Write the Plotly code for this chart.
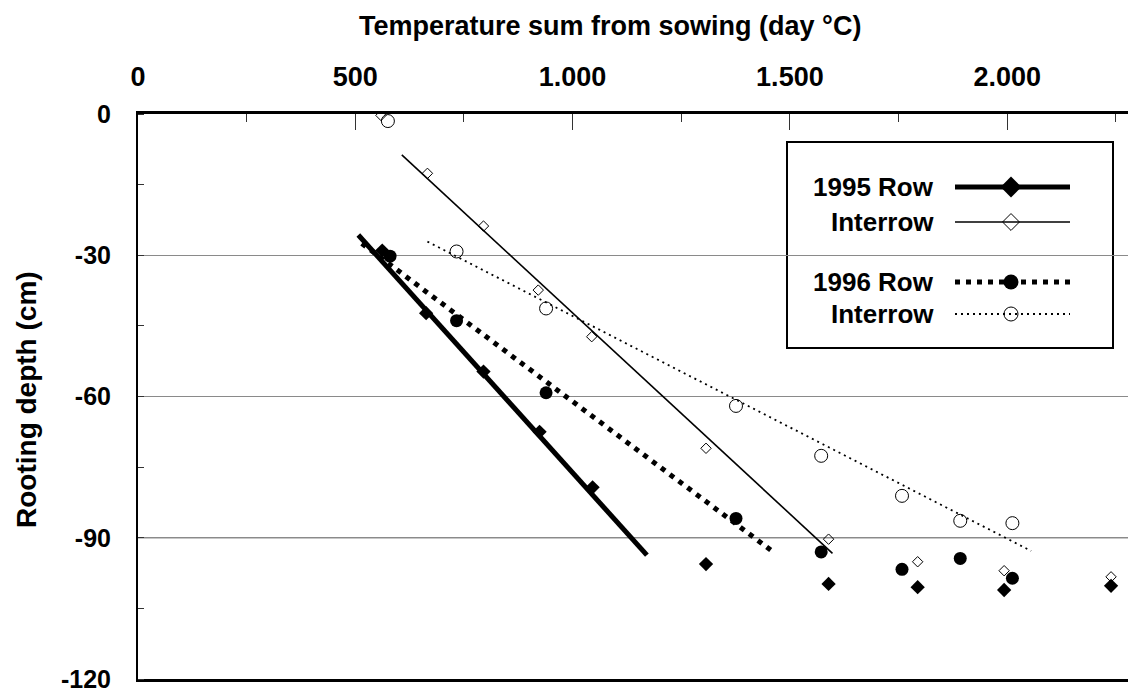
import plotly.graph_objects as go

# ---------------- data ----------------
# 1995 Row (filled diamonds)
row95_x = [562, 663, 795, 924, 1046, 1307, 1589, 1794, 1993, 2239]
row95_y = [-29.0, -42.3, -54.7, -67.5, -79.3, -95.6, -99.8, -100.5, -101.1, -100.2]
# 1995 Interrow (open diamonds)
int95_x = [559, 666, 795, 921, 1044, 1307, 1589, 1794, 1993, 2239]
int95_y = [-0.3, -12.6, -23.8, -37.4, -47.3, -71.0, -90.3, -95.1, -97.0, -98.3]
# 1996 Row (filled circles)
row96_x = [580, 733, 939, 1376, 1572, 1758, 1892, 2012]
row96_y = [-30.2, -43.9, -59.2, -85.9, -93.0, -96.7, -94.4, -98.6]
# 1996 Interrow (open circles)
int96_x = [575, 733, 939, 1376, 1572, 1758, 1892, 2012]
int96_y = [-1.5, -29.2, -41.3, -62.0, -72.6, -81.1, -86.4, -86.9]

# fitted trend lines (start / end)
fit_row95_x = [507, 1171]
fit_row95_y = [-25.7, -93.7]
fit_int95_x = [607, 1598]
fit_int95_y = [-8.7, -93.3]
fit_row96_x = [515, 1466]
fit_row96_y = [-27.5, -93.3]
fit_int96_x = [666, 2055]
fit_int96_y = [-27.1, -92.8]

x_tickvals = [0, 500, 1000, 1500, 2000]
x_ticktext = ["0", "500", "1.000", "1.500", "2.000"]
y_tickvals = [0, -30, -60, -90, -120]
y_ticktext = ["0", "-30", "-60", "-90", "-120"]

legend_labels = ["1995 Row", "Interrow", "1996 Row", "Interrow"]

FONT = "Liberation Sans, Arial, sans-serif"
BLACK = "black"

styles = [
    dict(line=dict(color=BLACK, width=5), marker=dict(symbol="diamond", size=11, color=BLACK)),
    dict(line=dict(color=BLACK, width=1.6), marker=dict(symbol="diamond-open", size=8, color=BLACK, line=dict(width=1))),
    dict(line=dict(color=BLACK, width=5, dash="5px,6px"), marker=dict(symbol="circle", size=13, color=BLACK)),
    dict(line=dict(color=BLACK, width=1.8, dash="2px,4px"), marker=dict(symbol="circle-open", size=13, color=BLACK, line=dict(width=1))),
]

fig = go.Figure()

series = [
    (row95_x, row95_y, fit_row95_x, fit_row95_y),
    (int95_x, int95_y, fit_int95_x, fit_int95_y),
    (row96_x, row96_y, fit_row96_x, fit_row96_y),
    (int96_x, int96_y, fit_int96_x, fit_int96_y),
]

for (px, py, fx, fy), st, name in zip(series, styles, legend_labels):
    fig.add_trace(go.Scatter(x=fx, y=fy, mode="lines", line=st["line"],
                             showlegend=False, hoverinfo="skip"))
for (px, py, fx, fy), st, name in zip(series, styles, legend_labels):
    fig.add_trace(go.Scatter(x=px, y=py, mode="markers", marker=st["marker"],
                             name=name, showlegend=False))

# ---------------- manual legend (text left, symbol right) ----------------
PL, PT, PB = 138, 114, 679

def px2paper_x(p):
    return (p - PL) / (1128.0 - PL)

def px2paper_y(p):
    return (PB - p) / float(PB - PT)

leg_rows_px = [187, 222, 282, 314]
legend_size = [16, 13, 15, 14]
for lab, ry, st, ms in zip(legend_labels, leg_rows_px, styles, legend_size):
    yy = px2paper_y(ry)
    fig.add_trace(go.Scatter(x=[px2paper_x(955), px2paper_x(1070)], y=[yy, yy],
                             mode="lines", line=st["line"], xaxis="x2", yaxis="y2",
                             showlegend=False, hoverinfo="skip"))
    mk = dict(st["marker"])
    mk["size"] = ms
    fig.add_trace(go.Scatter(x=[px2paper_x(1011)], y=[yy], mode="markers",
                             marker=mk, xaxis="x2", yaxis="y2",
                             showlegend=False, hoverinfo="skip"))
    fig.add_annotation(x=px2paper_x(936), y=yy, xref="paper", yref="paper",
                       text=lab, showarrow=False, xanchor="right", yanchor="middle",
                       font=dict(family=FONT, size=26, color=BLACK, weight="bold"))

fig.add_shape(type="rect", xref="paper", yref="paper",
              x0=px2paper_x(787), x1=px2paper_x(1113),
              y0=px2paper_y(348), y1=px2paper_y(142),
              line=dict(color=BLACK, width=2), fillcolor="white", layer="below")

# darker gridline at -90 as in the reference
fig.add_shape(type="line", xref="paper", yref="y", x0=0, x1=1, y0=-90, y1=-90,
              line=dict(color="#222", width=1), layer="below")

# axis titles
fig.add_annotation(x=px2paper_x(610), y=px2paper_y(26), xref="paper", yref="paper",
                   text="Temperature sum from sowing (day °C)", showarrow=False,
                   xanchor="center", yanchor="middle",
                   font=dict(family=FONT, size=27, color=BLACK, weight="bold"))
fig.add_annotation(x=px2paper_x(26), y=px2paper_y(400), xref="paper", yref="paper",
                   text="Rooting depth (cm)", showarrow=False, textangle=-90,
                   xanchor="center", yanchor="middle",
                   font=dict(family=FONT, size=28, color=BLACK, weight="bold"))

fig.update_layout(
    width=1128, height=693,
    margin=dict(l=PL, r=0, t=PT, b=693 - PB),
    paper_bgcolor="white", plot_bgcolor="rgba(0,0,0,0)",
    font=dict(family=FONT, color=BLACK),
    showlegend=False,
    xaxis=dict(
        side="top", range=[0, 2278], tickvals=x_tickvals, ticktext=x_ticktext,
        ticks="inside", ticklen=16, tickwidth=1, tickcolor="#333",
        minor=dict(ticks="inside", ticklen=8, dtick=250, tick0=0, tickcolor="#333", showgrid=False),
        showline=True, linecolor=BLACK, linewidth=3, mirror=True,
        showgrid=False, zeroline=False,
        tickfont=dict(family=FONT, size=27, color=BLACK, weight="bold"),
        ticklabelstandoff=14, ticklabeloverflow="allow",
    ),
    yaxis=dict(
        range=[-120, 0], tickvals=y_tickvals, ticktext=y_ticktext,
        ticks="",
        minor=dict(ticks="inside", ticklen=6, dtick=15, tick0=0, tickcolor="#333", showgrid=False),
        showline=True, linecolor=BLACK, linewidth=2, mirror=False,
        showgrid=True, gridcolor="#8a8a8a", gridwidth=1, zeroline=False,
        tickfont=dict(family=FONT, size=25, color=BLACK, weight="bold"),
        ticklabelstandoff=20, ticklabeloverflow="allow",
    ),
    xaxis2=dict(overlaying="x", range=[0, 1], visible=False, domain=[0, 1], anchor="y2"),
    yaxis2=dict(overlaying="y", range=[0, 1], visible=False, domain=[0, 1], anchor="x2"),
)

fig.write_html("out.html", config={"displayModeBar": False},
               post_script="document.body.style.margin='0';document.body.style.padding='0';")
